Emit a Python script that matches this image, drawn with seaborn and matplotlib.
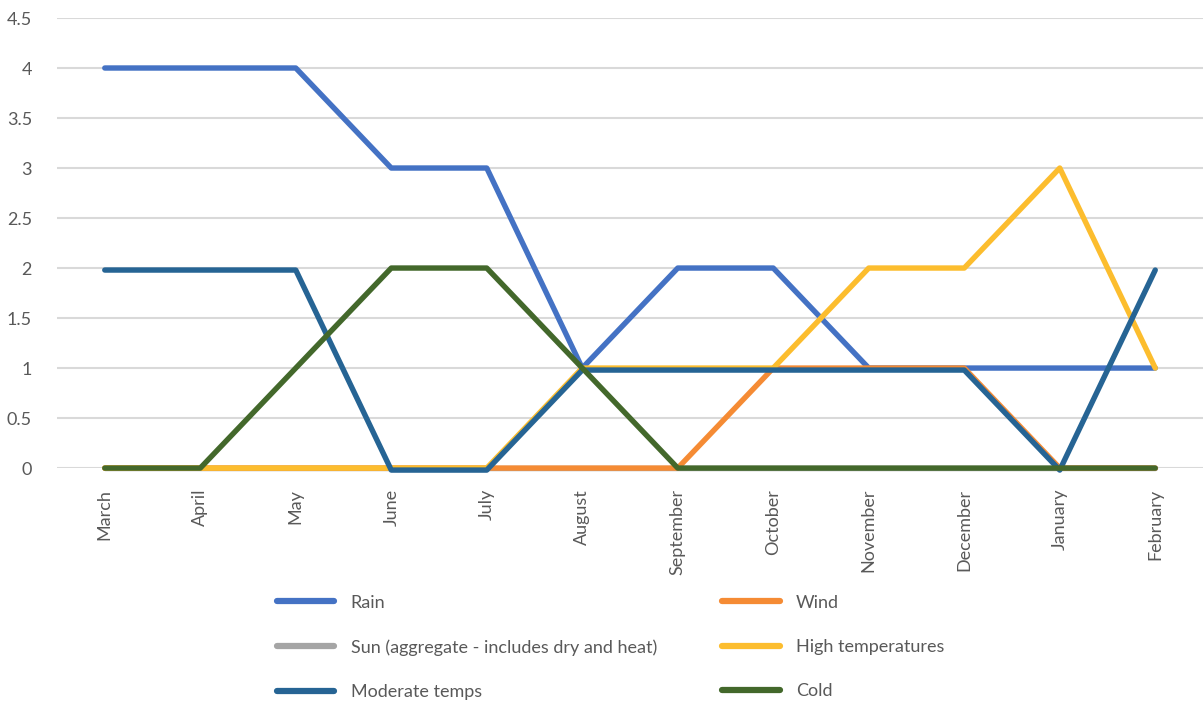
import matplotlib
matplotlib.use('Agg')
import matplotlib.pyplot as plt
import seaborn as sns
import pandas as pd

months = ['March', 'April', 'May', 'June', 'July', 'August', 'September',
          'October', 'November', 'December', 'January', 'February']

rain = [4, 4, 4, 3, 3, 1, 2, 2, 1, 1, 1, 1]
wind = [0, 0, 0, 0, 0, 0, 0, 1, 1, 1, 0, 0]
sun = [0, 0, 0, 0, 0, 0, 0, 0, 0, 0, 0, 0]
high_temps = [0, 0, 0, 0, 0, 1, 1, 1, 2, 2, 3, 1]
moderate_temps = [1.98, 1.98, 1.98, -0.02, -0.02, 0.98, 0.98, 0.98, 0.98, 0.98, -0.02, 1.98]
cold = [0, 0, 1, 2, 2, 1, 0, 0, 0, 0, 0, 0]

series_names = ['Rain', 'Wind', 'Sun (aggregate - includes dry and heat)',
                'High temperatures', 'Moderate temps', 'Cold']
series_values = [rain, wind, sun, high_temps, moderate_temps, cold]
colors = ['#4472C4', '#F58B34', '#A5A5A5', '#FCBD2E', '#266494', '#43682B']

rows = []
for name, vals in zip(series_names, series_values):
    for m, v in zip(months, vals):
        rows.append({'month': m, 'value': v, 'series': name})
df = pd.DataFrame(rows)

sns.set_style('white')
plt.rcParams['font.family'] = ['Lato', 'DejaVu Sans']

fig = plt.figure(figsize=(12.03, 7.06), dpi=100)
ax = fig.add_axes([0.0474, 0.337, 0.9526, 0.6375])

sns.lineplot(data=df, x='month', y='value', hue='series', hue_order=series_names,
             palette=colors, sort=False, linewidth=3.9, ax=ax, legend=False,
             solid_capstyle='round', solid_joinstyle='round')

# sun sits underneath everything else, as in the original
for i, line in enumerate(ax.lines):
    line.set_clip_on(False)
    line.set_zorder(1.5 if i == 2 else 2 + i * 0.1)

ax.set_xlim(-0.5, len(months) - 0.5)
ax.set_ylim(0, 4.5)
ax.set_yticks([0, 0.5, 1, 1.5, 2, 2.5, 3, 3.5, 4, 4.5])
ax.set_yticklabels(['0', '0.5', '1', '1.5', '2', '2.5', '3', '3.5', '4', '4.5'])
ax.yaxis.grid(True, color='#D9D9D9', linewidth=1.5)
ax.set_axisbelow(True)
for s in ax.spines.values():
    s.set_visible(False)
ax.set_xlabel('')
ax.set_ylabel('')
ax.set_xticks(range(len(months)))
ax.set_xticklabels(months, rotation=90, ha='center', va='top')
ax.tick_params(axis='both', length=0, labelsize=13, colors='#595959')
ax.tick_params(axis='x', pad=15)
ax.tick_params(axis='y', pad=18)

handles = [plt.Line2D([], [], color=c, linewidth=4.5, solid_capstyle='round')
           for c in colors]
left_idx = [0, 2, 4]
right_idx = [1, 3, 5]
for idx, xpos in [(left_idx, 0.224), (right_idx, 0.594)]:
    leg = fig.legend([handles[i] for i in idx], [series_names[i] for i in idx],
                     loc='upper left', bbox_to_anchor=(xpos, 0.168),
                     bbox_transform=fig.transFigure, frameon=False,
                     fontsize=13, handlelength=3.2, handletextpad=0.9,
                     labelspacing=1.57, borderaxespad=0)
    for t in leg.get_texts():
        t.set_color('#595959')

fig.savefig('out.png', dpi=100)
